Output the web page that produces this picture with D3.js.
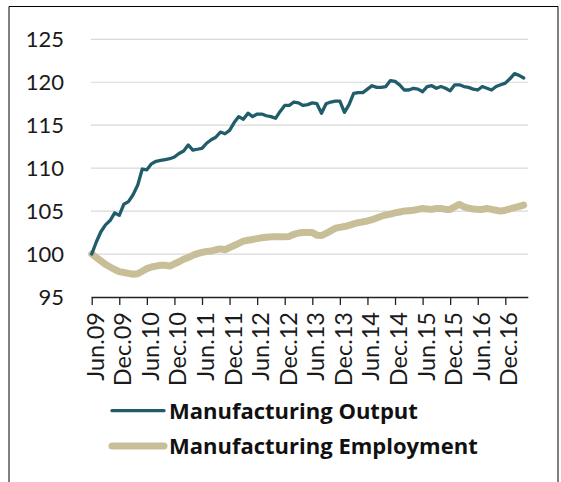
<!DOCTYPE html>
<html><head><meta charset="utf-8">
<script src="https://cdn.jsdelivr.net/npm/d3@7"></script>
<style>body{margin:0;background:#fff}svg{display:block}</style>
</head><body>
<svg id="c" width="561" height="482"></svg>
<script>
const output = [
100.0,101.4,102.6,103.4,103.9,104.8,104.5,105.8,106.1,106.9,
108.0,109.9,109.8,110.5,110.8,110.9,111.0,111.1,111.3,111.7,
112.0,112.7,112.1,112.2,112.3,112.9,113.3,113.6,114.2,114.0,
114.4,115.3,116.0,115.7,116.4,116.0,116.3,116.3,116.1,116.0,
115.8,116.6,117.3,117.3,117.7,117.6,117.3,117.4,117.6,117.5,
116.4,117.5,117.7,117.8,117.8,116.5,117.4,118.7,118.8,118.8,
119.2,119.6,119.4,119.4,119.5,120.2,120.1,119.7,119.1,119.1,
119.3,119.2,118.9,119.5,119.6,119.3,119.5,119.3,119.0,119.7,
119.7,119.5,119.4,119.2,119.1,119.5,119.3,119.1,119.5,119.7,
119.9,120.4,121.0,120.8,120.5];
const employment = [
100.0,99.6,99.2,98.8,98.5,98.2,97.95,97.85,97.75,97.65,
97.7,98.0,98.3,98.5,98.6,98.7,98.7,98.6,98.85,99.1,
99.4,99.6,99.85,100.05,100.2,100.3,100.35,100.5,100.6,100.5,
100.75,101.0,101.25,101.5,101.6,101.7,101.8,101.9,101.95,102.0,
102.0,102.0,102.0,102.05,102.3,102.45,102.5,102.5,102.5,102.2,
102.15,102.4,102.7,103.0,103.1,103.2,103.35,103.5,103.65,103.75,
103.85,104.0,104.2,104.4,104.55,104.65,104.8,104.9,105.0,105.05,
105.1,105.2,105.3,105.25,105.2,105.3,105.3,105.2,105.2,105.5,
105.8,105.5,105.35,105.25,105.2,105.2,105.3,105.2,105.1,105.0,
105.1,105.25,105.4,105.55,105.7];
const xTickLabels = ["Jun.09","Dec.09","Jun.10","Dec.10","Jun.11","Dec.11","Jun.12","Dec.12",
  "Jun.13","Dec.13","Jun.14","Dec.14","Jun.15","Dec.15","Jun.16","Dec.16"];
const yTicks = [95,100,105,110,115,120,125];
const seriesNames = ["Manufacturing Output","Manufacturing Employment"];
const seriesColors = ["#1F5D6B","#C8BF98"];

const svg = d3.select("#c");
const font = "Lato, 'Liberation Sans', sans-serif";

// frame
svg.append("path").attr("d","M9,490 L9,6.5 L558,6.5 L558,490")
  .attr("fill","none").attr("stroke","#000").attr("stroke-width",1);

const x = d3.scaleLinear().domain([0,95]).range([91.7,528.3]);
const y = d3.scaleLinear().domain([95,125]).range([297,39.3]);

// gridlines
svg.append("g").selectAll("line").data(yTicks.filter(d=>d>95)).join("line")
  .attr("x1",91).attr("x2",528).attr("y1",d=>y(d)).attr("y2",d=>y(d))
  .attr("stroke","#D9D9D9").attr("stroke-width",1.2);

// y labels
const yAxis = d3.axisLeft(y).tickValues(yTicks).tickSize(0).tickPadding(0);
const gy = svg.append("g").attr("transform","translate(64,0)").call(yAxis);
gy.select(".domain").remove();
gy.selectAll("text").attr("font-family",font).attr("font-size",22).attr("fill","#1a1a1a");

// x axis
const tickIdx = xTickLabels.map((d,i)=>i*6);
const xAxis = d3.axisBottom(x).tickValues(tickIdx).tickSize(8).tickFormat((d,i)=>xTickLabels[i]);
const gx = svg.append("g").attr("transform","translate(0,297)").call(xAxis);
gx.select(".domain").attr("d","M91.7,0.5H528.3").attr("stroke","#222").attr("stroke-width",1.3);
gx.selectAll(".tick line").attr("stroke","#222").attr("stroke-width",1.3);
gx.selectAll(".tick text")
  .attr("font-family",font).attr("font-size",23.5).attr("fill","#1a1a1a")
  .attr("text-anchor","end")
  .attr("transform","rotate(-90)")
  .attr("x",-15).attr("y",0).attr("dy","11.5px");

// lines
const line = d3.line().x((d,i)=>x(i)).y(d=>y(d));
svg.append("path").datum(employment).attr("d",line)
  .attr("fill","none").attr("stroke",seriesColors[1]).attr("stroke-width",7)
  .attr("stroke-linejoin","round").attr("stroke-linecap","round");
svg.append("path").datum(output).attr("d",line)
  .attr("fill","none").attr("stroke",seriesColors[0]).attr("stroke-width",3.3)
  .attr("stroke-linejoin","round").attr("stroke-linecap","round");

// legend
const lg = svg.append("g");
const ly = [410.7, 446];
const lw = [3.3, 7];
seriesNames.forEach((n,i)=>{
  lg.append("line").attr("x1",112).attr("x2",164).attr("y1",ly[i]).attr("y2",ly[i])
    .attr("stroke",seriesColors[i]).attr("stroke-width",lw[i]).attr("stroke-linecap","round");
  lg.append("text").attr("x",169).attr("y",ly[i]).attr("dy","0.36em")
    .attr("font-family","'Open Sans', sans-serif").attr("font-weight","bold").attr("font-size",22)
    .attr("fill","#111").text(n);
});
</script>
</body></html>
